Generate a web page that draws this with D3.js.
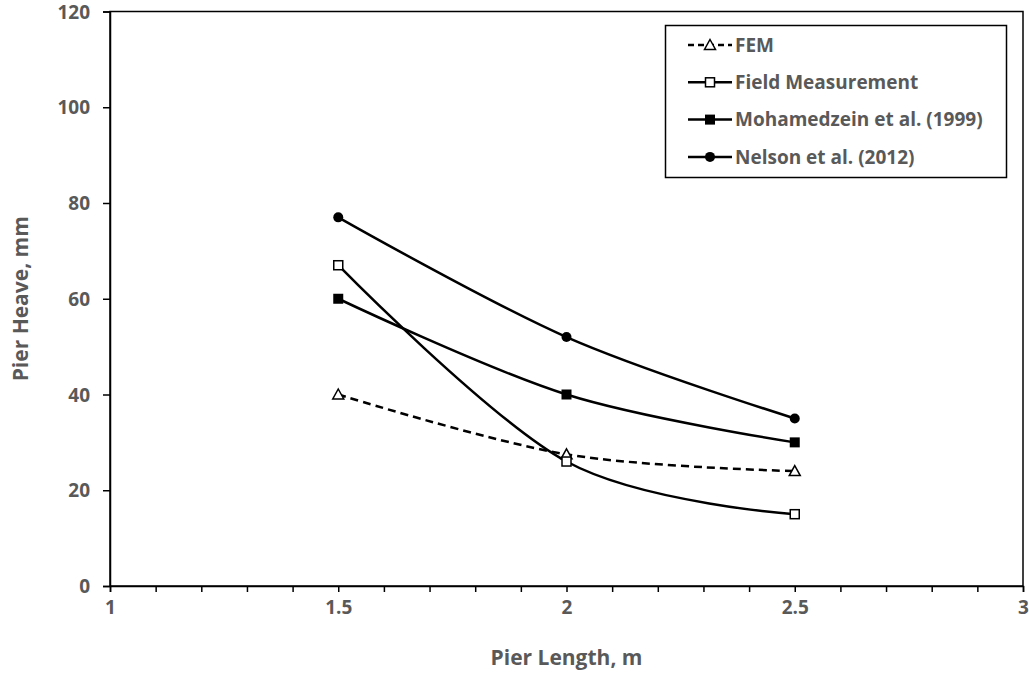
<!DOCTYPE html>
<html>
<head>
<meta charset="utf-8">
<script src="https://cdn.jsdelivr.net/npm/d3@7"></script>
<style>
  body { margin: 0; background: #fff; }
  text { font-family: "Open Sans", sans-serif; font-weight: bold; fill: #595959; }
</style>
</head>
<body>
<div id="chart"></div>
<script>
// data
const pierLength = [1.5, 2, 2.5];
const fem = [40, 27.5, 24];
const fieldMeasurement = [67, 26, 15];
const mohamedzein = [60, 40, 30];
const nelson = [77, 52, 35];
const yTicks = [0, 20, 40, 60, 80, 100, 120];
const xTicks = [1, 1.5, 2, 2.5, 3];

const series = [
    { name: "FEM", values: fem, marker: "triangle", dashed: true },
    { name: "Field Measurement", values: fieldMeasurement, marker: "openSquare", dashed: false },
    { name: "Mohamedzein et al. (1999)", values: mohamedzein, marker: "square", dashed: false },
    { name: "Nelson et al. (2012)", values: nelson, marker: "circle", dashed: false }
];

const width = 1029;
const height = 676;
const marginLeft = 110;
const marginRight = 6;
const marginTop = 11.5;
const marginBottom = 90;

const x = d3.scaleLinear().domain([1, 3]).range([marginLeft, width - marginRight]);
const y = d3.scaleLinear().domain([0, 120]).range([height - marginBottom, marginTop]);

const svg = d3.select("#chart").append("svg")
    .attr("width", width)
    .attr("height", height);

// plot frame
svg.append("rect")
    .attr("x", x(1)).attr("y", y(120))
    .attr("width", x(3) - x(1)).attr("height", y(0) - y(120))
    .attr("fill", "none").attr("stroke", "#000").attr("stroke-width", 1.5);

// y axis
const gy = svg.append("g")
    .attr("transform", `translate(${x(1)},0)`)
    .call(d3.axisLeft(y).tickValues(yTicks).tickSize(7).tickPadding(13))
    .call(g => g.select(".domain").attr("stroke-width", 1.5));
gy.selectAll("line").attr("stroke-width", 1.5);
gy.selectAll("text").attr("font-size", 19).attr("dy", "0.35em");

// x axis: minor ticks every 0.1, labels every 0.5
const gx = svg.append("g")
    .attr("transform", `translate(0,${y(0)})`)
    .call(d3.axisBottom(x).ticks(20).tickSize(6).tickFormat(d => xTicks.includes(+d.toFixed(1)) ? d3.format("")(+d.toFixed(1)) : ""))
    .call(g => g.select(".domain").attr("stroke-width", 1.5));
gx.selectAll("line").attr("stroke-width", 1.5);
gx.selectAll("text").attr("font-size", 19).attr("dy", "1.0em");

// axis titles
svg.append("text")
    .attr("x", (x(1) + x(3)) / 2).attr("y", 665)
    .attr("text-anchor", "middle").attr("font-size", 21)
    .text("Pier Length, m");
svg.append("text")
    .attr("transform", `translate(28,${(y(0) + y(120)) / 2}) rotate(-90)`)
    .attr("text-anchor", "middle").attr("font-size", 21)
    .text("Pier Heave, mm");

const line = d3.line()
    .x((d, i) => x(pierLength[i]))
    .y(d => y(d))
    .curve(d3.curveCardinal.tension(0));

function drawMarker(g, type, cx, cy) {
    if (type === "triangle") {
        g.append("path")
            .attr("d", `M${cx},${cy - 5.5}L${cx + 5.5},${cy + 4.5}L${cx - 5.5},${cy + 4.5}Z`)
            .attr("fill", "#fff").attr("stroke", "#000").attr("stroke-width", 1.5);
    } else if (type === "openSquare") {
        g.append("rect").attr("x", cx - 4.5).attr("y", cy - 4.5).attr("width", 9).attr("height", 9)
            .attr("fill", "#fff").attr("stroke", "#000").attr("stroke-width", 1.5);
    } else if (type === "square") {
        g.append("rect").attr("x", cx - 5).attr("y", cy - 5).attr("width", 10).attr("height", 10)
            .attr("fill", "#000");
    } else {
        g.append("circle").attr("cx", cx).attr("cy", cy).attr("r", 5).attr("fill", "#000");
    }
}

const plot = svg.append("g");
series.forEach(s => {
    plot.append("path")
        .attr("d", line(s.values))
        .attr("fill", "none").attr("stroke", "#000").attr("stroke-width", 2.5)
        .attr("stroke-dasharray", s.dashed ? "8,5" : null);
});
series.forEach(s => {
    s.values.forEach((v, i) => drawMarker(plot, s.marker, x(pierLength[i]), y(v)));
});

// legend
const legend = svg.append("g");
legend.append("rect")
    .attr("x", 665.5).attr("y", 25.5).attr("width", 341).attr("height", 152)
    .attr("fill", "#fff").attr("stroke", "#000").attr("stroke-width", 1.5);
series.forEach((s, i) => {
    const ly = 45 + i * 37.3;
    legend.append("line")
        .attr("x1", 688).attr("x2", 732).attr("y1", ly).attr("y2", ly)
        .attr("stroke", "#000").attr("stroke-width", 2.5)
        .attr("stroke-dasharray", s.dashed ? "6,4" : null);
    drawMarker(legend, s.marker, 710, ly);
    legend.append("text")
        .attr("x", 735).attr("y", ly).attr("dy", "0.35em")
        .attr("font-size", 19)
        .text(s.name);
});
</script>
</body>
</html>
